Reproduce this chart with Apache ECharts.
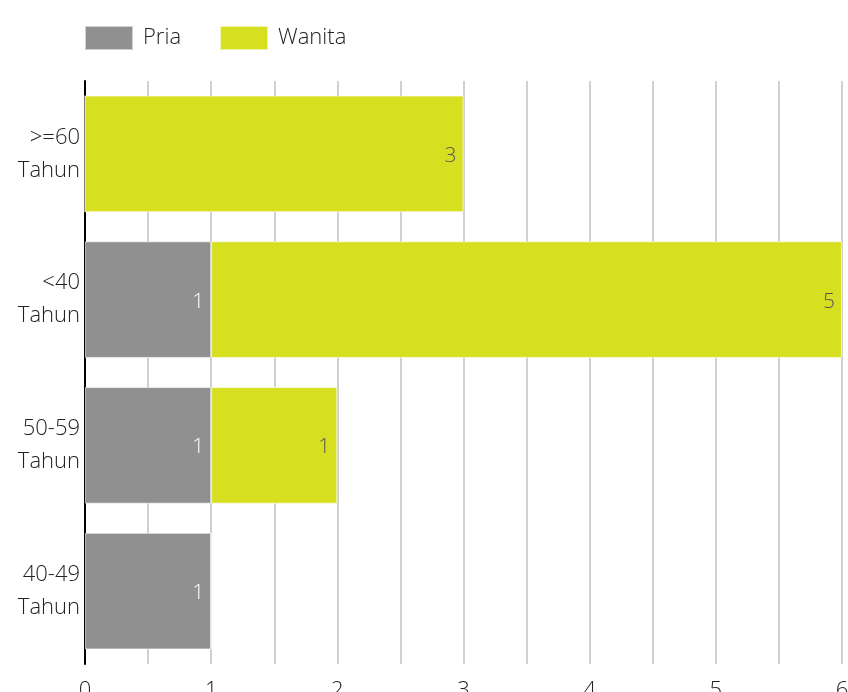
<!DOCTYPE html>
<html>
<head>
<meta charset="utf-8">
<script src="https://cdn.jsdelivr.net/npm/echarts@6/dist/echarts.min.js"></script>
<style>
  html, body { margin: 0; padding: 0; background: #fff; }
  #chart { width: 848px; height: 692px; }
</style>
</head>
<body>
<div id="chart"></div>
<script>
// Age groups, listed bottom to top
const categories = ['40-49\nTahun', '50-59\nTahun', '<40\nTahun', '>=60\nTahun'];
const pria = [1, 1, 1, 0];
const wanita = [0, 1, 5, 3];
const xTicks = [0, 1, 2, 3, 4, 5, 6];

const FONT = '"Open Sans", Lato, sans-serif';
const WEIGHT = 300;

const chart = echarts.init(document.getElementById('chart'));

function labelOf(color) {
  return {
    show: true,
    position: 'insideRight',
    color: color,
    fontFamily: FONT,
    fontWeight: WEIGHT,
    fontSize: 21,
    offset: [-2, 2],
    formatter: p => (p.value === 0 ? '' : p.value)
  };
}

chart.setOption({
  animation: false,
  textStyle: { fontFamily: FONT },
  legend: {
    left: 79,
    top: 20,
    itemWidth: 48,
    itemHeight: 24,
    itemGap: 38,
    icon: 'rect',
    textStyle: { fontSize: 22, color: '#222', fontFamily: FONT, fontWeight: WEIGHT, padding: [0, 0, 0, 5] },
    data: ['Pria', 'Wanita']
  },
  grid: { left: 85, right: 6, top: 81, bottom: 28, containLabel: false, outerBoundsMode: 'none' },
  xAxis: {
    type: 'value',
    min: 0,
    max: 6,
    interval: 0.5,
    axisLine: { show: false },
    axisTick: { show: false },
    splitLine: { show: true, lineStyle: { color: '#d0d0d0', width: 2 } },
    axisLabel: {
      fontSize: 22,
      color: '#222',
      fontFamily: FONT,
      fontWeight: WEIGHT,
      margin: 16,
      formatter: v => (xTicks.indexOf(v) >= 0 ? String(v) : '')
    }
  },
  yAxis: {
    type: 'category',
    data: categories,
    axisLine: { show: true, lineStyle: { color: '#000', width: 2 } },
    axisTick: { show: false },
    axisLabel: {
      fontSize: 22,
      color: '#222',
      fontFamily: FONT,
      fontWeight: WEIGHT,
      lineHeight: 33,
      margin: 5,
      padding: [11, 0, 0, 0],
      align: 'right'
    }
  },
  series: [
    {
      name: 'Pria',
      type: 'bar',
      stack: 'total',
      barWidth: '80%',
      data: pria,
      itemStyle: { color: '#909090', borderColor: 'rgba(255,255,255,0.6)', borderWidth: 1 },
      label: labelOf('#ffffff')
    },
    {
      name: 'Wanita',
      type: 'bar',
      stack: 'total',
      barWidth: '80%',
      data: wanita,
      itemStyle: { color: '#d7df21', borderColor: 'rgba(255,255,255,0.6)', borderWidth: 1 },
      label: labelOf('#555555')
    }
  ]
});
</script>
</body>
</html>
